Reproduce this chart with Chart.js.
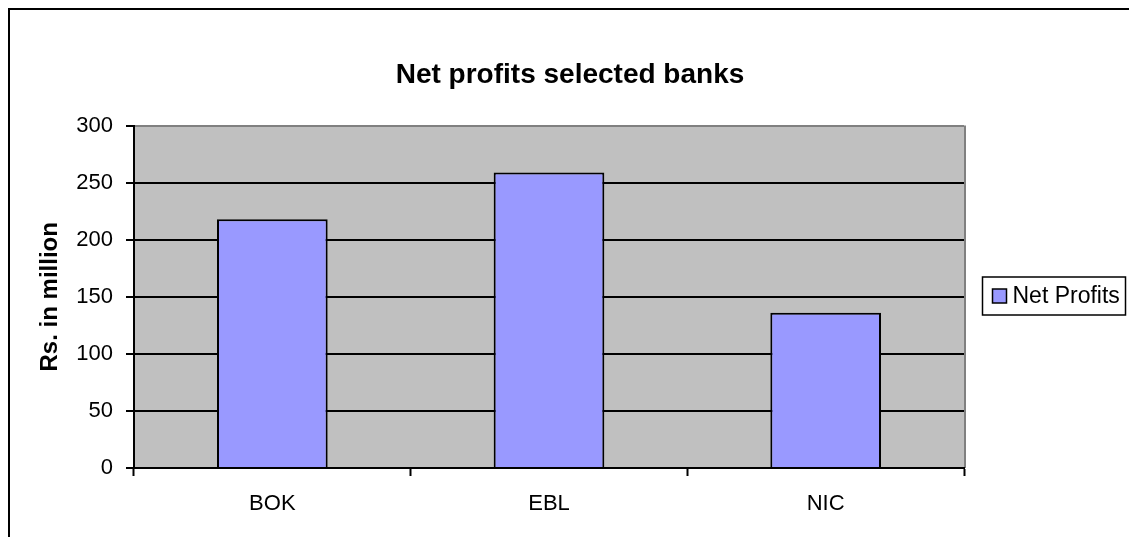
<!DOCTYPE html>
<html>
<head>
<meta charset="utf-8">
<script src="https://cdn.jsdelivr.net/npm/chart.js@4"></script>
<style>
  html, body { margin: 0; padding: 0; background: #fff; overflow: hidden; }
  #wrap { width: 1129px; height: 537px; }
</style>
</head>
<body>
<div id="wrap"><canvas id="chart"></canvas></div>
<script>
const banks = ['BOK', 'EBL', 'NIC'];
const netProfits = [218, 259, 136];
const seriesName = 'Net Profits';
const chartTitle = 'Net profits selected banks';
const yAxisTitle = 'Rs. in million';

const FONT = "Arial, 'Liberation Sans', sans-serif";

// grey plot area, right edge and the outer frame
const backdrop = {
    id: 'backdrop',
    beforeDraw(chart) {
        const {ctx, chartArea: a} = chart;
        ctx.save();
        ctx.fillStyle = '#c0c0c0';
        ctx.fillRect(a.left, a.top, a.right - a.left, a.bottom - a.top);
        ctx.strokeStyle = '#808080';
        ctx.lineWidth = 2;
        ctx.beginPath();
        ctx.moveTo(a.right + 1, a.top);
        ctx.lineTo(a.right + 1, a.bottom);
        ctx.stroke();
        ctx.strokeStyle = '#000';
        ctx.lineWidth = 2;
        ctx.strokeRect(9, 9, 1300, 700);
        ctx.restore();
    }
};

// boxed legend to the right of the plot
const boxLegend = {
    id: 'boxLegend',
    afterDraw(chart) {
        const {ctx, chartArea: a} = chart;
        const ds = chart.data.datasets[0];
        const x = Math.round(a.right) + 18.5;
        const cy = Math.round((a.top + a.bottom) / 2) - 1;
        ctx.save();
        ctx.strokeStyle = '#000';
        ctx.lineWidth = 1.5;
        ctx.fillStyle = '#fff';
        ctx.fillRect(x, cy - 19, 143, 38);
        ctx.strokeRect(x, cy - 19, 143, 38);
        ctx.fillStyle = ds.backgroundColor;
        ctx.fillRect(x + 10, cy - 7, 14, 14);
        ctx.strokeRect(x + 10, cy - 7, 14, 14);
        ctx.fillStyle = '#000';
        ctx.font = '23px ' + FONT;
        ctx.textBaseline = 'middle';
        ctx.fillText(ds.label, x + 30, cy + 1);
        ctx.restore();
    }
};

new Chart(document.getElementById('chart'), {
    type: 'bar',
    data: {
        labels: banks,
        datasets: [{
            label: seriesName,
            data: netProfits,
            backgroundColor: '#9999ff',
            borderColor: '#000',
            borderWidth: 2,
            barPercentage: 0.4,
            categoryPercentage: 1
        }]
    },
    options: {
        responsive: true,
        maintainAspectRatio: false,
        animation: false,
        layout: { padding: { left: 11, right: 0, top: 0, bottom: 0 } },
        plugins: {
            legend: { display: false },
            tooltip: { enabled: false },
            title: {
                display: true,
                text: chartTitle,
                color: '#000',
                font: { family: FONT, size: 28, weight: 'bold' },
                padding: { top: 58, bottom: 34 }
            }
        },
        scales: {
            x: {
                grid: { drawOnChartArea: false, drawTicks: true, tickLength: 8, tickColor: '#000', tickWidth: 2, offset: true },
                border: { color: '#000', width: 2 },
                ticks: { color: '#000', font: { family: FONT, size: 22 }, padding: 15, maxRotation: 0 },
                afterFit(s) { s.height = 69; }
            },
            y: {
                min: 0,
                max: 300,
                ticks: { stepSize: 50, color: '#000', font: { family: FONT, size: 22 }, padding: 13 },
                grid: {
                    color: c => c.tick && c.tick.value === 300 ? '#808080' : '#000',
                    lineWidth: 2,
                    tickLength: 8,
                    tickColor: '#000',
                    tickWidth: 2
                },
                border: { color: '#000', width: 2 },
                title: {
                    display: true,
                    text: yAxisTitle,
                    color: '#000',
                    font: { family: FONT, size: 24, weight: 'bold' },
                    padding: { top: 25, bottom: 0 }
                },
                afterFit(s) { s.width = 123; }
            },
            legendSpace: {
                type: 'linear',
                position: 'right',
                display: true,
                grid: { display: false },
                border: { display: false },
                ticks: { display: false },
                afterFit(s) { s.width = 165; }
            }
        }
    },
    plugins: [backdrop, boxLegend]
});
</script>
</body>
</html>
